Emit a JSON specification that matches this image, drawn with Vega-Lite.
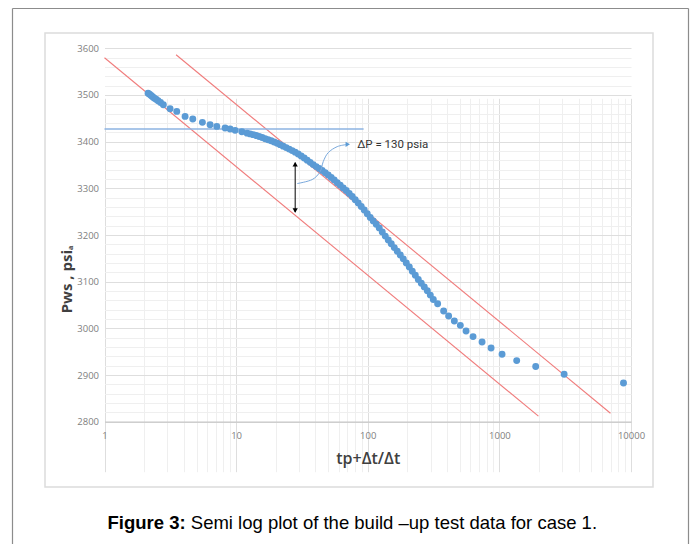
{
  "$schema": "https://vega.github.io/schema/vega-lite/v6.json",
  "width": 608,
  "height": 454,
  "autosize": {"type": "none"},
  "padding": {"left": 45, "top": 33, "right": 44, "bottom": 57},
  "background": "white",
  "config": {
    "view": {"stroke": "#dcdcdc", "strokeWidth": 1.5},
    "axis": {"labelFont": "Open Sans", "titleFont": "Open Sans"}
  },
  "datasets": {
    "pts": [
      {"t": 2.142, "p": 3503.7}, {"t": 2.199, "p": 3501.6}, {"t": 2.257, "p": 3498.8}, {"t": 2.317, "p": 3496.3},
      {"t": 2.378, "p": 3493.5}, {"t": 2.464, "p": 3490.7}, {"t": 2.552, "p": 3487.7}, {"t": 2.666, "p": 3483.9},
      {"t": 2.8, "p": 3479.1}, {"t": 3.149, "p": 3470.6}, {"t": 3.54, "p": 3464.8}, {"t": 4.095, "p": 3454.1},
      {"t": 4.685, "p": 3448.6}, {"t": 5.543, "p": 3441.3}, {"t": 6.344, "p": 3436.4}, {"t": 7.133, "p": 3432.7},
      {"t": 8.248, "p": 3429.3}, {"t": 9.003, "p": 3427.2}, {"t": 9.826, "p": 3424.2}, {"t": 11.05, "p": 3421.4},
      {"t": 12.12, "p": 3418.2}, {"t": 12.78, "p": 3416.6}, {"t": 13.47, "p": 3415.0}, {"t": 14.2, "p": 3413.2},
      {"t": 14.96, "p": 3410.9}, {"t": 15.77, "p": 3408.7}, {"t": 16.62, "p": 3406.4}, {"t": 17.52, "p": 3404.1},
      {"t": 18.46, "p": 3401.8}, {"t": 19.45, "p": 3399.1}, {"t": 20.5, "p": 3396.4}, {"t": 21.61, "p": 3393.6},
      {"t": 22.77, "p": 3390.4}, {"t": 24.0, "p": 3387.2}, {"t": 25.29, "p": 3384.0}, {"t": 26.66, "p": 3380.8},
      {"t": 28.1, "p": 3377.5}, {"t": 29.61, "p": 3373.7}, {"t": 31.21, "p": 3369.2}, {"t": 32.89, "p": 3365.1},
      {"t": 34.67, "p": 3360.4}, {"t": 36.53, "p": 3355.6}, {"t": 38.51, "p": 3350.8}, {"t": 40.58, "p": 3346.5},
      {"t": 42.77, "p": 3342.3}, {"t": 45.08, "p": 3338.0}, {"t": 47.51, "p": 3333.2}, {"t": 50.07, "p": 3328.4},
      {"t": 52.77, "p": 3323.2}, {"t": 55.62, "p": 3317.7}, {"t": 58.63, "p": 3312.1}, {"t": 61.79, "p": 3306.4},
      {"t": 65.12, "p": 3300.8}, {"t": 68.63, "p": 3295.2}, {"t": 72.33, "p": 3288.8}, {"t": 76.23, "p": 3282.4},
      {"t": 80.34, "p": 3275.7}, {"t": 84.68, "p": 3268.5}, {"t": 89.24, "p": 3261.2}, {"t": 94.05, "p": 3253.5},
      {"t": 99.13, "p": 3245.5}, {"t": 104.5, "p": 3237.4}, {"t": 110.1, "p": 3230.2}, {"t": 116.0, "p": 3223.0},
      {"t": 122.3, "p": 3215.2}, {"t": 128.9, "p": 3206.4}, {"t": 135.9, "p": 3197.6}, {"t": 143.2, "p": 3189.3},
      {"t": 150.9, "p": 3181.3}, {"t": 159.1, "p": 3173.0}, {"t": 167.6, "p": 3165.2}, {"t": 176.7, "p": 3157.2},
      {"t": 186.2, "p": 3148.9}, {"t": 196.3, "p": 3140.1}, {"t": 206.9, "p": 3131.3}, {"t": 218.0, "p": 3122.5},
      {"t": 229.8, "p": 3113.6}, {"t": 242.1, "p": 3104.8}, {"t": 255.2, "p": 3096.8}, {"t": 268.9, "p": 3088.8},
      {"t": 283.5, "p": 3080.4}, {"t": 298.8, "p": 3071.2}, {"t": 314.9, "p": 3062.0}, {"t": 339.6, "p": 3052.8},
      {"t": 377.2, "p": 3037.0}, {"t": 411.6, "p": 3026.3}, {"t": 454.8, "p": 3015.6}, {"t": 505.1, "p": 3006.4},
      {"t": 558.3, "p": 2994.2}, {"t": 631.0, "p": 2982.3}, {"t": 738.6, "p": 2970.7}, {"t": 864.8, "p": 2957.9},
      {"t": 1048, "p": 2944.4}, {"t": 1354, "p": 2930.9}, {"t": 1888, "p": 2918.1}, {"t": 3105, "p": 2901.6},
      {"t": 8770, "p": 2883.0}
    ],
    "redlines": [
      {"id": "a", "t": 1, "p": 3579.7}, {"id": "a", "t": 1980, "p": 2811.8},
      {"id": "b", "t": 3.498, "p": 3586.1}, {"id": "b", "t": 6982, "p": 2818.2}
    ],
    "hline": [{"t": 1, "p": 3427.2}, {"t": 93, "p": 3427.2}],
    "varrow": [{"t": 28.1, "p": 3355}, {"t": 28.1, "p": 3249}],
    "callout": [
      {"t": 29.1, "p": 3310.2}, {"t": 37.8, "p": 3318.7}, {"t": 43.5, "p": 3335.8}, {"t": 45.9, "p": 3357.2},
      {"t": 50.1, "p": 3376.5}, {"t": 58.6, "p": 3389.3}, {"t": 68.6, "p": 3393.6}
    ],
    "heads": [
      {"t": 28.1, "p": 3351.5, "dir": "up"},
      {"t": 28.1, "p": 3252.5, "dir": "down"}
    ],
    "bluehead": [{"t": 70.5, "p": 3394.2}],
    "label": [{"t": 83.2, "p": 3393.6, "txt": "ΔP = 130 psia"}],
    "frame": [{"fx": 0, "fy": 0}]
  },
  "layer": [
    {
      "encoding": {
        "x": {
          "field": "t",
          "type": "quantitative",
          "scale": {"type": "log", "domain": [1, 10000], "range": [59.5, 586], "nice": false},
          "axis": {
            "orient": "bottom",
            "offset": -65.3,
            "values": [1, 2, 3, 4, 5, 6, 7, 8, 9, 10, 20, 30, 40, 50, 60, 70, 80, 90, 100, 200, 300, 400, 500, 600, 700, 800, 900, 1000, 2000, 3000, 4000, 5000, 6000, 7000, 8000, 9000, 10000],
            "format": "d",
            "labelExpr": "indexof([1,10,100,1000,10000], datum.value) >= 0 ? datum.label : ''",
            "labelFontSize": 9.5,
            "labelColor": "#808080",
            "labelPadding": 9,
            "labelFlush": false,
            "labelOverlap": false,
            "ticks": false,
            "domain": true,
            "domainColor": "#c8c8c8",
            "domainWidth": 1.2,
            "grid": true,
            "gridColor": {"condition": {"test": "indexof([1,10,100,1000,10000], datum.value) >= 0", "value": "#dedede"}, "value": "#efefef"},
            "gridWidth": 1,
            "title": "tp+Δt/Δt",
            "titleFontSize": 16,
            "titleFontWeight": 600,
            "titleColor": "#404040",
            "titlePadding": 10
          }
        },
        "y": {
          "field": "p",
          "type": "quantitative",
          "scale": {"domain": [2800, 3600], "range": [388.7, 15.3], "nice": false, "zero": false},
          "axis": {
            "orient": "left",
            "offset": -59.5,
            "values": [2800, 2820, 2840, 2860, 2880, 2900, 2920, 2940, 2960, 2980, 3000, 3020, 3040, 3060, 3080, 3100, 3120, 3140, 3160, 3180, 3200, 3220, 3240, 3260, 3280, 3300, 3320, 3340, 3360, 3380, 3400, 3420, 3440, 3460, 3480, 3500, 3520, 3540, 3560, 3580, 3600],
            "format": "d",
            "labelExpr": "datum.value % 100 === 0 ? datum.label : ''",
            "labelFontSize": 9.5,
            "labelColor": "#808080",
            "labelPadding": 6,
            "labelOverlap": false,
            "labelFlush": false,
            "ticks": false,
            "domain": false,
            "grid": true,
            "gridColor": {"condition": {"test": "datum.value % 100 === 0", "value": "#dedede"}, "value": "#efefef"},
            "title": "Pws , psiₐ",
            "titleFontSize": 15,
            "titleFontWeight": "bold",
            "titleColor": "#404040",
            "titleAngle": -90,
            "titleAlign": "center",
            "titleBaseline": "middle",
            "titleX": -38.5,
            "titleY": 246
          }
        }
      },
      "layer": [
        {
          "data": {"name": "redlines"},
          "mark": {"type": "line", "color": "#f07c7c", "strokeWidth": 1.1},
          "encoding": {"detail": {"field": "id"}}
        },
        {
          "data": {"name": "hline"},
          "mark": {"type": "line", "color": "#8db3e2", "strokeWidth": 1.5},
          "encoding": {}
        },
        {
          "data": {"name": "pts"},
          "mark": {"type": "point", "filled": true, "shape": "circle", "size": 48, "color": "#5b9bd5", "opacity": 1},
          "encoding": {}
        },
        {
          "data": {"name": "varrow"},
          "mark": {"type": "line", "color": "#000000", "strokeWidth": 1},
          "encoding": {}
        },
        {
          "data": {"name": "heads"},
          "mark": {"type": "point", "filled": true, "size": 28, "color": "#000000", "opacity": 1},
          "encoding": {
            "shape": {"field": "dir", "type": "nominal", "scale": {"domain": ["up", "down"], "range": ["triangle-up", "triangle-down"]}, "legend": null}
          }
        },
        {
          "data": {"name": "callout"},
          "mark": {"type": "line", "color": "#7aa9dc", "strokeWidth": 1, "interpolate": "cardinal"},
          "encoding": {}
        },
        {
          "data": {"name": "bluehead"},
          "mark": {"type": "point", "filled": true, "shape": "triangle-right", "size": 26, "color": "#5b9bd5", "opacity": 1},
          "encoding": {}
        },
        {
          "data": {"name": "label"},
          "mark": {"type": "text", "align": "left", "baseline": "middle", "font": "Roboto", "fontSize": 11.5, "color": "#333333"},
          "encoding": {"text": {"field": "txt"}}
        }
      ]
    },
    {
      "data": {"name": "frame"},
      "mark": {"type": "point", "opacity": 0},
      "encoding": {
        "x": {"field": "fx", "type": "quantitative", "scale": {"domain": [0, 1], "range": [-33, 643], "nice": false, "zero": false},
          "axis": {"orient": "top", "offset": 25, "domain": true, "domainColor": "#8c8c8c", "domainWidth": 1.2, "labels": false, "ticks": false, "grid": false, "title": null}},
        "y": {"field": "fy", "type": "quantitative", "scale": {"domain": [0, 1], "range": [530, -25], "nice": false, "zero": false},
          "axis": {"orient": "left", "offset": 33, "domain": true, "domainColor": "#8c8c8c", "domainWidth": 1.2, "labels": false, "ticks": false, "grid": false, "title": null}}
      }
    },
    {
      "data": {"name": "frame"},
      "mark": {"type": "point", "opacity": 0},
      "encoding": {
        "x": {"field": "fx", "type": "quantitative", "scale": {"domain": [0, 1], "range": [0, 608], "nice": false, "zero": false},
          "axis": {"orient": "bottom", "offset": 0, "domain": false, "labels": false, "ticks": false, "grid": false,
            "title": "Figure 3:", "titleFont": "Liberation Sans", "titleFontSize": 18.5, "titleFontWeight": "bold", "titleColor": "#000000",
            "titleAngle": 0, "titleAlign": "left", "titleBaseline": "alphabetic", "titleX": 62, "titleY": 41.6}},
        "y": {"field": "fy", "type": "quantitative", "scale": {"domain": [0, 1], "range": [530, -25], "nice": false, "zero": false},
          "axis": {"orient": "right", "offset": 35, "domain": true, "domainColor": "#8c8c8c", "domainWidth": 1.2, "labels": false, "ticks": false, "grid": false, "title": null}}
      }
    },
    {
      "data": {"name": "frame"},
      "mark": {"type": "point", "opacity": 0},
      "encoding": {
        "x": {"field": "fx", "type": "quantitative", "scale": {"domain": [0, 1], "range": [0, 608], "nice": false, "zero": false},
          "axis": {"orient": "bottom", "offset": 0, "domain": false, "labels": false, "ticks": false, "grid": false,
            "title": "Semi log plot of the build \u2013up test data for case 1.", "titleFont": "Liberation Sans", "titleFontSize": 18.5, "titleFontWeight": "normal", "titleColor": "#000000",
            "titleAngle": 0, "titleAlign": "left", "titleBaseline": "alphabetic", "titleX": 145.3, "titleY": 41.6}},
        "y": {"field": "fy", "type": "quantitative", "scale": {"domain": [0, 1], "range": [0, 454], "nice": false, "zero": false}, "axis": null}
      }
    }
  ],
  "resolve": {"scale": {"x": "independent", "y": "independent"}, "axis": {"x": "independent", "y": "independent"}}
}
